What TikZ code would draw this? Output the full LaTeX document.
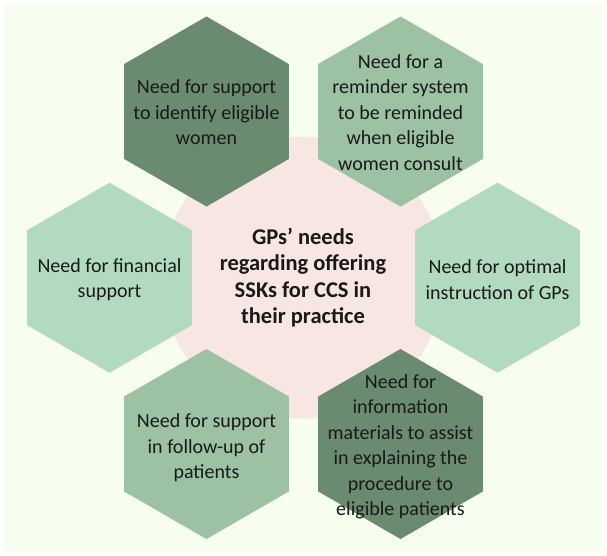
\documentclass[tikz,border=0pt]{standalone}
\usepackage{fontspec}
\setmainfont{Carlito}
\usetikzlibrary{shapes.geometric}
\definecolor{bgc}{RGB}{247,253,239}
\definecolor{hexdark}{RGB}{107,139,112}
\definecolor{hexmid}{RGB}{156,193,163}
\definecolor{hexlight}{RGB}{178,218,190}
\definecolor{pinkc}{RGB}{248,230,226}
\definecolor{txt}{RGB}{25,25,25}
\tikzset{
  hexa/.style={regular polygon, regular polygon sides=6, shape border rotate=30,
    minimum size=190pt, inner sep=0pt, outer sep=0pt, draw=none},
  hextext/.style={align=center, text=txt, inner sep=0pt,
    font=\fontsize{20}{25.5}\selectfont},
  hubtext/.style={align=center, text=txt, inner sep=0pt,
    font=\fontsize{22.5}{26.3}\selectfont\bfseries}
}
\begin{document}
\begin{tikzpicture}[x=1pt,y=-1pt]
\useasboundingbox (0,0) rectangle (607,556);
\fill[white] (0,0) rectangle (607,556);
\fill[bgc] (4,4) rectangle (603,552);
\node[circle, fill=pinkc, minimum size=282pt, inner sep=0pt] (hub) at (303,277.7) {};
\node[hexa, fill=hexdark] (h1) at (206.5,111.5) {};
\node[hexa, fill=hexmid] (h2) at (400.5,111.5) {};
\node[hexa, fill=hexlight] (h3) at (497.5,277.7) {};
\node[hexa, fill=hexdark] (h4) at (400.5,444) {};
\node[hexa, fill=hexmid] (h5) at (206.5,444) {};
\node[hexa, fill=hexlight] (h6) at (109.5,277.7) {};
\node[hubtext] (c) at (303,277.5) {GPs’ needs\\regarding offering\\SSKs for CCS in\\their practice};
\node[hextext] (t1) at ([yshift=-1pt]h1.center) {Need for support\\to identify eligible\\women};
\node[hextext] (t2) at ([yshift=-1pt]h2.center) {Need for a\\reminder system\\to be reminded\\when eligible\\women consult};
\node[hextext] (t3) at ([yshift=-2pt]h3.center) {Need for optimal\\instruction of GPs};
\node[hextext] (t4) at ([yshift=-3pt]h4.center) {\fontsize{20}{24.3}\selectfont Need for\\information\\materials to assist\\in explaining the\\procedure to\\eligible patients};
\node[hextext] (t5) at ([yshift=-4pt]h5.center) {Need for support\\in follow-up of\\patients};
\node[hextext] (t6) at ([yshift=-2pt]h6.center) {Need for financial\\support};
\end{tikzpicture}
\end{document}
